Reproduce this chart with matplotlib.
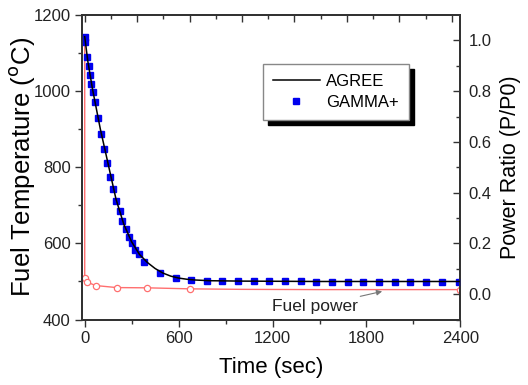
import numpy as np
import matplotlib
matplotlib.use("Agg")
from matplotlib import pyplot as plt
from matplotlib.ticker import MultipleLocator, FixedLocator

plt.rcParams['font.family'] = ['Liberation Sans', 'DejaVu Sans']

# AGREE fuel temperature (line)
agree_t = [0, 20, 50, 100, 150, 200, 250, 300, 350, 400, 450, 500, 550, 600,
           650, 700, 800, 1000, 1500, 2000, 2400]
agree_T = [1143, 1078, 1005, 900, 808, 716, 650, 604, 571, 550, 534, 522, 514,
           509, 506, 504, 502, 501, 500, 500, 500]

# GAMMA+ fuel temperature (squares)
gamma_t = [0, 2, 15, 26, 34, 43, 53, 64, 85, 107, 125, 143, 164, 181, 203, 224,
           241, 262, 284, 305, 324, 344, 380, 480, 580, 680, 780, 880, 980,
           1080, 1180, 1280, 1380, 1480, 1580, 1680, 1780, 1880, 1980, 2080,
           2180, 2280, 2390]
gamma_T = [1143, 1130, 1089, 1066, 1042, 1020, 999, 972, 929, 887, 849, 810,
           775, 743, 712, 686, 660, 637, 618, 600, 584, 571, 552, 521, 509, 503,
           502, 502, 501, 500, 500, 500, 500, 499, 499, 499, 499, 499, 499, 499,
           499, 499, 499]

# fuel power ratio (right axis)
power_t = [0, 0, 13, 70, 204, 400, 670, 1000, 1500, 2000, 2400]
power = [1.0, 0.064, 0.048, 0.034, 0.026, 0.025, 0.021, 0.019, 0.018, 0.018, 0.018]
power_marks = [0, 1, 2, 3, 4, 5, 6, 10]

fig = plt.figure(figsize=(5.28, 3.85), dpi=100)
ax = fig.add_axes([0.156, 0.170, 0.716, 0.791])
ax2 = ax.twinx()
ax3 = ax.twiny()

ax.plot(agree_t, agree_T, color='black', lw=1.1, label='AGREE', zorder=3)
ax.plot(gamma_t, gamma_T, ls='none', marker='s', ms=4.2, color='#0000ee',
        label='GAMMA+', zorder=2)

ax2.plot(power_t, power, color='#ff6f6f', lw=1.0, marker='o', ms=4.5,
         mfc='white', mec='#ff6f6f', mew=0.9, markevery=power_marks)

ax.set_xlim(-15, 2400)
ax.set_ylim(400, 1200)
ax2.set_ylim(-0.1, 1.1)
ax3.set_xlim(ax.get_xlim())

ax.xaxis.set_major_locator(MultipleLocator(600))
ax.xaxis.set_minor_locator(MultipleLocator(300))
ax.yaxis.set_major_locator(MultipleLocator(200))
ax.yaxis.set_minor_locator(MultipleLocator(100))
ax.tick_params(which='both', direction='out', labelsize=12, width=1.0,
               color='#333333', labelcolor='#222222')
ax.tick_params(which='major', length=5)
ax.tick_params(which='minor', length=3)

ax2.yaxis.set_major_locator(FixedLocator([0, 0.2, 0.4, 0.6, 0.8, 1.0]))
ax2.yaxis.set_minor_locator(FixedLocator([-0.1, 0.1, 0.3, 0.5, 0.7, 0.9]))
ax2.set_yticklabels(['0.0', '0.2', '0.4', '0.6', '0.8', '1.0'])
ax2.tick_params(which='both', direction='in', labelsize=12, width=1.0,
                color='#333333', labelcolor='#222222', pad=6)
ax2.tick_params(which='major', length=5)
ax2.tick_params(which='minor', length=3)

ax3.xaxis.set_major_locator(FixedLocator([0, 335, 670, 1005, 1340, 1675, 2010, 2345]))
ax3.xaxis.set_minor_locator(FixedLocator([167, 502, 837, 1172, 1507, 1842, 2177]))
ax3.tick_params(which='both', direction='in', labeltop=False, width=1.0,
                color='#333333')
ax3.tick_params(which='major', length=5)
ax3.tick_params(which='minor', length=3)

for a in (ax, ax2, ax3):
    for s in a.spines.values():
        s.set_linewidth(1.2)
        s.set_color('#333333')

ax.set_xlabel('Time (sec)', fontsize=16, labelpad=8)
ax.set_ylabel('Fuel Temperature ($^{\\mathrm{o}}$C)', fontsize=18.5)
ax.yaxis.set_label_coords(-0.12, 0.50)
ax2.set_ylabel('Power Ratio (P/P0)', fontsize=15.5, labelpad=6)

ax2.annotate('Fuel power', xy=(1900, 0.011), xytext=(1470, -0.049),
             fontsize=12.5, ha='center', va='center', color='#222222',
             arrowprops=dict(arrowstyle='-|>', color='#777777', lw=0.8,
                             mutation_scale=8, shrinkA=34, shrinkB=0))

leg = ax.legend(loc='upper left', bbox_to_anchor=(0.478, 0.839), borderaxespad=0,
                fancybox=False, fontsize=12, handlelength=2.8, handletextpad=0.4,
                borderpad=0.6, labelspacing=0.35,
                shadow={'color': 'black', 'alpha': 1, 'ox': 3.5, 'oy': -3.5})
leg.get_frame().set_edgecolor('#888888')
leg.get_frame().set_linewidth(1.0)
leg.set_zorder(10)
ax.set_zorder(ax3.get_zorder() + 1)
ax.patch.set_visible(False)

fig.savefig('out.png', dpi=100)
